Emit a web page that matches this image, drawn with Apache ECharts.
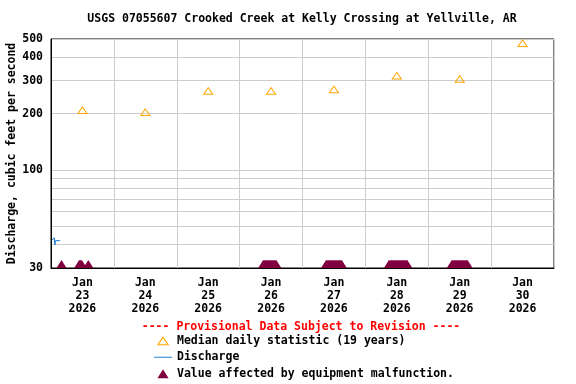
<!DOCTYPE html>
<html>
<head>
<meta charset="utf-8">
<script src="https://cdn.jsdelivr.net/npm/echarts@6/dist/echarts.min.js"></script>
<style>
html,body{margin:0;padding:0;background:#fff;}
#chart{width:576px;height:384px;}
</style>
</head>
<body>
<div id="chart"></div>
<script>
const titleText = 'USGS 07055607 Crooked Creek at Kelly Crossing at Yellville, AR';
const dayLabels = ['Jan\n23\n2026','Jan\n24\n2026','Jan\n25\n2026','Jan\n26\n2026','Jan\n27\n2026','Jan\n28\n2026','Jan\n29\n2026','Jan\n30\n2026'];
const medianTimes = ['2026-01-23 12:00','2026-01-24 12:00','2026-01-25 12:00','2026-01-26 12:00','2026-01-27 12:00','2026-01-28 12:00','2026-01-29 12:00','2026-01-30 12:00'];
const medianValues = [209, 204, 265, 265, 270, 319, 307, 476];
const dischargeTimes = ['2026-01-23 00:15','2026-01-23 01:00','2026-01-23 01:15','2026-01-23 01:30','2026-01-23 01:45','2026-01-23 02:30','2026-01-23 03:30'];
const dischargeValues = [42, 42, 43.5, 39.8, 42, 42, 42];
const malfunctionTimes = [
  '2026-01-23 04:00',
  '2026-01-23 10:45','2026-01-23 11:00','2026-01-23 11:15','2026-01-23 11:30','2026-01-23 11:45',
  '2026-01-23 14:15',
  '2026-01-26 09:00','2026-01-26 09:15','2026-01-26 09:30','2026-01-26 09:45','2026-01-26 10:00','2026-01-26 10:15','2026-01-26 10:30','2026-01-26 10:45',
  '2026-01-26 11:00','2026-01-26 11:15','2026-01-26 11:30','2026-01-26 11:45','2026-01-26 12:00','2026-01-26 12:15','2026-01-26 12:30','2026-01-26 12:45',
  '2026-01-26 13:00','2026-01-26 13:15','2026-01-26 13:30','2026-01-26 13:45','2026-01-26 14:00',
  '2026-01-27 09:00','2026-01-27 09:15','2026-01-27 09:30','2026-01-27 09:45','2026-01-27 10:00','2026-01-27 10:15','2026-01-27 10:30','2026-01-27 10:45',
  '2026-01-27 11:00','2026-01-27 11:15','2026-01-27 11:30','2026-01-27 11:45','2026-01-27 12:00','2026-01-27 12:15','2026-01-27 12:30','2026-01-27 12:45',
  '2026-01-27 13:00','2026-01-27 13:15','2026-01-27 13:30','2026-01-27 13:45','2026-01-27 14:00','2026-01-27 14:15','2026-01-27 14:30','2026-01-27 14:45','2026-01-27 15:00',
  '2026-01-28 09:00','2026-01-28 09:15','2026-01-28 09:30','2026-01-28 09:45','2026-01-28 10:00','2026-01-28 10:15','2026-01-28 10:30','2026-01-28 10:45',
  '2026-01-28 11:00','2026-01-28 11:15','2026-01-28 11:30','2026-01-28 11:45','2026-01-28 12:00','2026-01-28 12:15','2026-01-28 12:30','2026-01-28 12:45',
  '2026-01-28 13:00','2026-01-28 13:15','2026-01-28 13:30','2026-01-28 13:45','2026-01-28 14:00','2026-01-28 14:15','2026-01-28 14:30','2026-01-28 14:45',
  '2026-01-28 15:00','2026-01-28 15:15','2026-01-28 15:30','2026-01-28 15:45','2026-01-28 16:00',
  '2026-01-29 09:00','2026-01-29 09:15','2026-01-29 09:30','2026-01-29 09:45','2026-01-29 10:00','2026-01-29 10:15','2026-01-29 10:30','2026-01-29 10:45',
  '2026-01-29 11:00','2026-01-29 11:15','2026-01-29 11:30','2026-01-29 11:45','2026-01-29 12:00','2026-01-29 12:15','2026-01-29 12:30','2026-01-29 12:45',
  '2026-01-29 13:00','2026-01-29 13:15','2026-01-29 13:30','2026-01-29 13:45','2026-01-29 14:00','2026-01-29 14:15','2026-01-29 14:30','2026-01-29 14:45','2026-01-29 15:00'
];
const malfunctionValue = 30;
const yLabelValues = [30, 100, 200, 300, 400, 500];
const yGridValues = [30, 40, 50, 60, 70, 80, 90, 100, 200, 300, 400, 500];
const seriesNames = ['Median daily statistic (19 years)', 'Discharge', 'Value affected by equipment malfunction.'];
const provisionalText = '---- Provisional Data Subject to Revision ----';

const FONT = '"DejaVu Sans Mono", "Liberation Mono", monospace';
// outline triangle (outer clockwise, inner counter-clockwise -> hole)
const EMPTY_TRI = 'path://M5.5,0 L11,8 L0,8 Z M5.5,1.76 L1.9,7 L9.1,7 Z';
const SOLID_TRI = 'path://M5,0 L10,8 L0,8 Z';
const LINE_ICON = 'path://M0,0 L18,0 L18,1 L0,1 Z';

const chart = echarts.init(document.getElementById('chart'), null, {renderer: 'canvas'});
const option = {
  animation: false,
  backgroundColor: '#ffffff',
  grid: {left: 51, top: 39, right: 22, bottom: 116, containLabel: false, outerBoundsMode: 'none',
         show: true, borderColor: '#000', borderWidth: 1, backgroundColor: 'transparent'},
  xAxis: [
    {type: 'time', min: '2026-01-23 00:00', max: '2026-01-31 00:00', show: false},
    {type: 'category', data: dayLabels, position: 'bottom', boundaryGap: true,
     axisLine: {show: true, lineStyle: {color: '#000', width: 1}},
     axisTick: {show: false},
     splitLine: {show: true, interval: 0, lineStyle: {color: '#cccccc', width: 1}},
     axisLabel: {interval: 0, margin: 9, color: '#000', fontFamily: FONT, fontWeight: 'bold', fontSize: 11.5, lineHeight: 13}}
  ],
  yAxis: {
    type: 'log', logBase: 10, min: 30, max: 500,
    name: 'Discharge, cubic feet per second', nameLocation: 'middle', nameGap: 33, nameMoveOverlap: false,
    nameTextStyle: {color: '#000', fontFamily: FONT, fontWeight: 'bold', fontSize: 11.5},
    axisLine: {show: true, lineStyle: {color: '#000'}},
    axisTick: {show: false, customValues: yGridValues},
    axisLabel: {customValues: yLabelValues, margin: 8, color: '#000', fontFamily: FONT, fontWeight: 'bold', fontSize: 11.5},
    splitLine: {show: true, lineStyle: {color: '#cccccc', width: 1}}
  },
  legend: {
    orient: 'vertical', left: 154, top: 334, padding: 0, itemWidth: 18, itemHeight: 9, itemGap: 3,
    height: 60,
    textStyle: {color: '#000', fontFamily: FONT, fontWeight: 'bold', fontSize: 11.5, lineHeight: 13.5},
    data: [
      {name: seriesNames[0], icon: EMPTY_TRI},
      {name: seriesNames[1], icon: LINE_ICON},
      {name: seriesNames[2], icon: SOLID_TRI}
    ]
  },
  graphic: [
    {type: 'text', x: 302, y: 19, style: {text: titleText, textAlign: 'center', textVerticalAlign: 'middle', fill: '#000', font: 'bold 11.5px ' + FONT}},
    {type: 'text', x: 301, y: 327, style: {text: provisionalText, textAlign: 'center', textVerticalAlign: 'middle', fill: '#ff0000', font: 'bold 11.5px ' + FONT}}
  ],
  series: [
    {name: seriesNames[0], type: 'scatter', xAxisIndex: 0, symbol: EMPTY_TRI, symbolSize: [11, 8],
     itemStyle: {color: '#ffa500', opacity: 1},
     data: medianTimes.map((t, i) => [t, medianValues[i]]), z: 5},
    {name: seriesNames[1], type: 'line', xAxisIndex: 0, symbol: 'none', showSymbol: false,
     lineStyle: {color: '#1a7fd6', width: 1}, itemStyle: {color: '#1a7fd6'},
     data: dischargeTimes.map((t, i) => [t, dischargeValues[i]]), z: 4},
    {name: seriesNames[2], type: 'scatter', xAxisIndex: 0, symbol: SOLID_TRI, symbolSize: [10, 8], symbolOffset: [0, -4],
     itemStyle: {color: '#800040', opacity: 1},
     data: malfunctionTimes.map(t => [t, malfunctionValue]), z: 6}
  ]
};
chart.setOption(option);
</script>
</body>
</html>
